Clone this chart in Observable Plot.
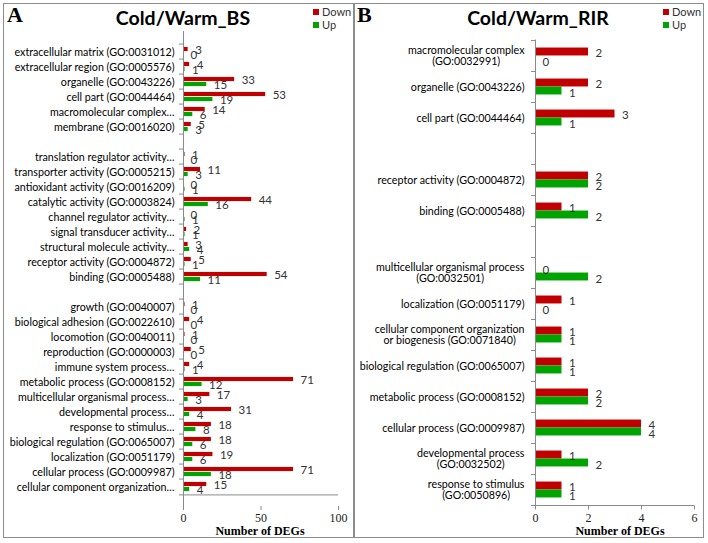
<!DOCTYPE html>
<html><head><meta charset="utf-8">
<script src="https://cdn.jsdelivr.net/npm/d3@7"></script>
<script src="https://cdn.jsdelivr.net/npm/@observablehq/plot@0.6"></script>
<style>
body{margin:0;background:#fff;}
#root{position:relative;width:708px;height:543px;overflow:hidden;font-family:Lato,sans-serif;background:#fff;}
.box{position:absolute;border:1.5px solid #8c8c8c;box-sizing:border-box;}
.abs{position:absolute;white-space:nowrap;line-height:1;}
.letter{font-family:"Liberation Serif",serif;font-weight:bold;font-size:22px;color:#000;}
.title{font-family:Lato,sans-serif;font-weight:bold;font-size:19.5px;color:#000;transform:translateX(-50%);}
.leg{font-family:Lato,sans-serif;font-size:11px;color:#333;}
.sw{position:absolute;width:6px;height:6px;}
.xlab{font-family:"Liberation Serif",serif;font-weight:bold;font-size:12px;color:#000;transform:translateX(-50%);}
svg.p{position:absolute;top:0;overflow:visible;}
svg.p g[aria-label="x-axis tick label"] text{font-family:"Liberation Serif",serif;font-size:12px;}
svg.p g[aria-label="y-axis tick label"] text{font-family:Lato,sans-serif;font-size:10.7px;}
</style></head><body><div id="root"></div>
<script>
// ---------- Panel A: Cold/Warm_BS ----------
const catsA = [
  "extracellular matrix (GO:0031012)",
  "extracellular region (GO:0005576)",
  "organelle (GO:0043226)",
  "cell part (GO:0044464)",
  "macromolecular complex…",
  "membrane (GO:0016020)",
  " ",
  "translation regulator activity…",
  "transporter activity (GO:0005215)",
  "antioxidant activity (GO:0016209)",
  "catalytic activity (GO:0003824)",
  "channel regulator activity…",
  "signal transducer activity…",
  "structural molecule activity…",
  "receptor activity (GO:0004872)",
  "binding (GO:0005488)",
  "  ",
  "growth (GO:0040007)",
  "biological adhesion (GO:0022610)",
  "locomotion (GO:0040011)",
  "reproduction (GO:0000003)",
  "immune system process…",
  "metabolic process (GO:0008152)",
  "multicellular organismal process…",
  "developmental process…",
  "response to stimulus…",
  "biological regulation (GO:0065007)",
  "localization (GO:0051179)",
  "cellular process (GO:0009987)",
  "cellular component organization…"
];
const downA = [3,4,33,53,14,5,null,1,11,0,44,0,2,3,5,54,null,1,4,1,5,4,71,17,31,18,18,19,71,15];
const upA   = [0,1,15,19,6,3,null,0,3,1,16,1,1,4,1,11,null,0,0,0,0,1,12,3,4,8,6,6,18,4];
const ticksA = [0,50,100];
const maxA = 100;

// ---------- Panel B: Cold/Warm_RIR ----------
const catsB = [
  "macromolecular complex\n(GO:0032991)",
  "organelle (GO:0043226)",
  "cell part (GO:0044464)",
  " ",
  "receptor activity (GO:0004872)",
  "binding (GO:0005488)",
  "  ",
  "multicellular organismal process\n(GO:0032501)",
  "localization (GO:0051179)",
  "cellular component organization\nor biogenesis (GO:0071840)",
  "biological regulation (GO:0065007)",
  "metabolic process (GO:0008152)",
  "cellular process (GO:0009987)",
  "developmental process\n(GO:0032502)",
  "response to stimulus\n(GO:0050896)"
];
const downB = [2,2,3,null,2,1,null,0,1,1,1,2,4,1,1];
const upB   = [0,1,1,null,2,2,null,2,0,1,1,2,4,2,1];
const ticksB = [0,2,4,6];
const maxB = 6;

const seriesNames = ["Down","Up"];
const seriesColors = ["#c00000","#00a400"];
const titles = ["Cold/Warm_BS","Cold/Warm_RIR"];
const letters = ["A","B"];
const axisTitle = "Number of DEGs";

const root = document.getElementById("root");
const GRAY = "#8a8a8a";

function addDiv(cls, style, text){
  const d = document.createElement("div");
  d.className = cls;
  Object.assign(d.style, style);
  if (text != null) d.textContent = text;
  root.appendChild(d);
  return d;
}

function panel(o){
  const rows = o.cats.map((c,i)=>({cat:c, down:o.down[i], up:o.up[i]})).filter(r=>r.down!=null);
  const n = o.cats.length;
  const bw = (o.height - o.mt - o.mb)/n;
  const plot = Plot.plot({
    width: o.width, height: o.height,
    marginLeft: o.ml, marginRight: o.mr, marginTop: o.mt, marginBottom: o.mb,
    style: {background:"transparent", fontFamily:"Lato, sans-serif", fontSize:"11px", color:"#222"},
    x: {domain:[0,o.max], ticks:o.ticks, label:null},
    y: {domain:o.cats, padding:0, label:null},
    marks: [
      Plot.barX(rows, {y:"cat", x:"down", fill:seriesColors[0], insetTop:bw/2-o.barH, insetBottom:bw/2}),
      Plot.barX(rows, {y:"cat", x:"up", fill:seriesColors[1], insetTop:bw/2, insetBottom:bw/2-o.barH}),
      Plot.text(rows, {y:"cat", x:"down", text:d=>String(d.down), textAnchor:"start", dx:o.ldx, dy:o.dyDown, fill:"#333", fontSize:11.5}),
      Plot.text(rows, {y:"cat", x:"up", text:d=>String(d.up), textAnchor:"start", dx:o.ldx, dy:o.dyUp, fill:"#333", fontSize:11.5}),
      Plot.ruleX([0], {stroke:GRAY}),
      Plot.ruleY(o.cats, {y:d=>d, dy:-bw/2, x1:0, x2:0, insetLeft:-4, stroke:GRAY}),
      Plot.ruleY([o.cats[n-1]], {y:d=>d, dy:bw/2, x1:0, x2:o.max, insetLeft:-4, stroke:GRAY}),
      Plot.axisX({ticks:o.ticks, tickFormat:d=>String(d), tickSize:4, tickPadding:3, stroke:GRAY, fill:"#222", label:null}),
      Plot.axisY({tickSize:0, tickPadding:o.tp, tickFormat:d=>d.trim(), fill:"#000", label:null, lineHeight:1.05})
    ]
  });
  plot.classList.add("p");
  plot.style.left = o.left + "px";
  root.appendChild(plot);
  // center the lines of wrapped category labels within their block (as in the original)
  plot.querySelectorAll('g[aria-label="y-axis tick label"] text').forEach(t=>{
    const sp = t.querySelectorAll("tspan");
    if (sp.length > 1){
      let w = 0;
      sp.forEach(s=>{ w = Math.max(w, s.getComputedTextLength()); });
      t.setAttribute("text-anchor","middle");
      sp.forEach(s=>s.setAttribute("x", -w/2));
    }
  });
}

// panel frames
addDiv("box", {left:"3px", top:"3px", width:"351.5px", height:"535px"});
addDiv("box", {left:"352.5px", top:"3px", width:"351.5px", height:"535px"});

panel({left:0, width:353, height:543, ml:183, mr:15, mt:31, mb:37, cats:catsA, down:downA, up:upA,
       ticks:ticksA, max:maxA, barH:5, dyDown:-2, dyUp:3, ldx:7, tp:9});
panel({left:353, width:355, height:543, ml:182, mr:14, mt:39.5, mb:37.5, cats:catsB, down:downB, up:upB,
       ticks:ticksB, max:maxB, barH:8, dyDown:-2.5, dyUp:6.5, ldx:7, tp:11});

// letters, titles, legends, axis titles
const panelsX = [{letter:7, title:183, leg:313, axis:260},{letter:357, title:538, leg:663, axis:620}];
panelsX.forEach((p,i)=>{
  addDiv("abs letter", {left:p.letter+"px", top:"4px"}, letters[i]);
  addDiv("abs title", {left:p.title+"px", top:"8px"}, titles[i]);
  seriesNames.forEach((s,j)=>{
    addDiv("sw", {left:p.leg+"px", top:(9+j*13)+"px", background:seriesColors[j]});
    addDiv("abs leg", {left:(p.leg+9)+"px", top:(6+j*13)+"px"}, s);
  });
  addDiv("abs xlab", {left:p.axis+"px", top:"525px"}, axisTitle);
});
</script></body></html>
